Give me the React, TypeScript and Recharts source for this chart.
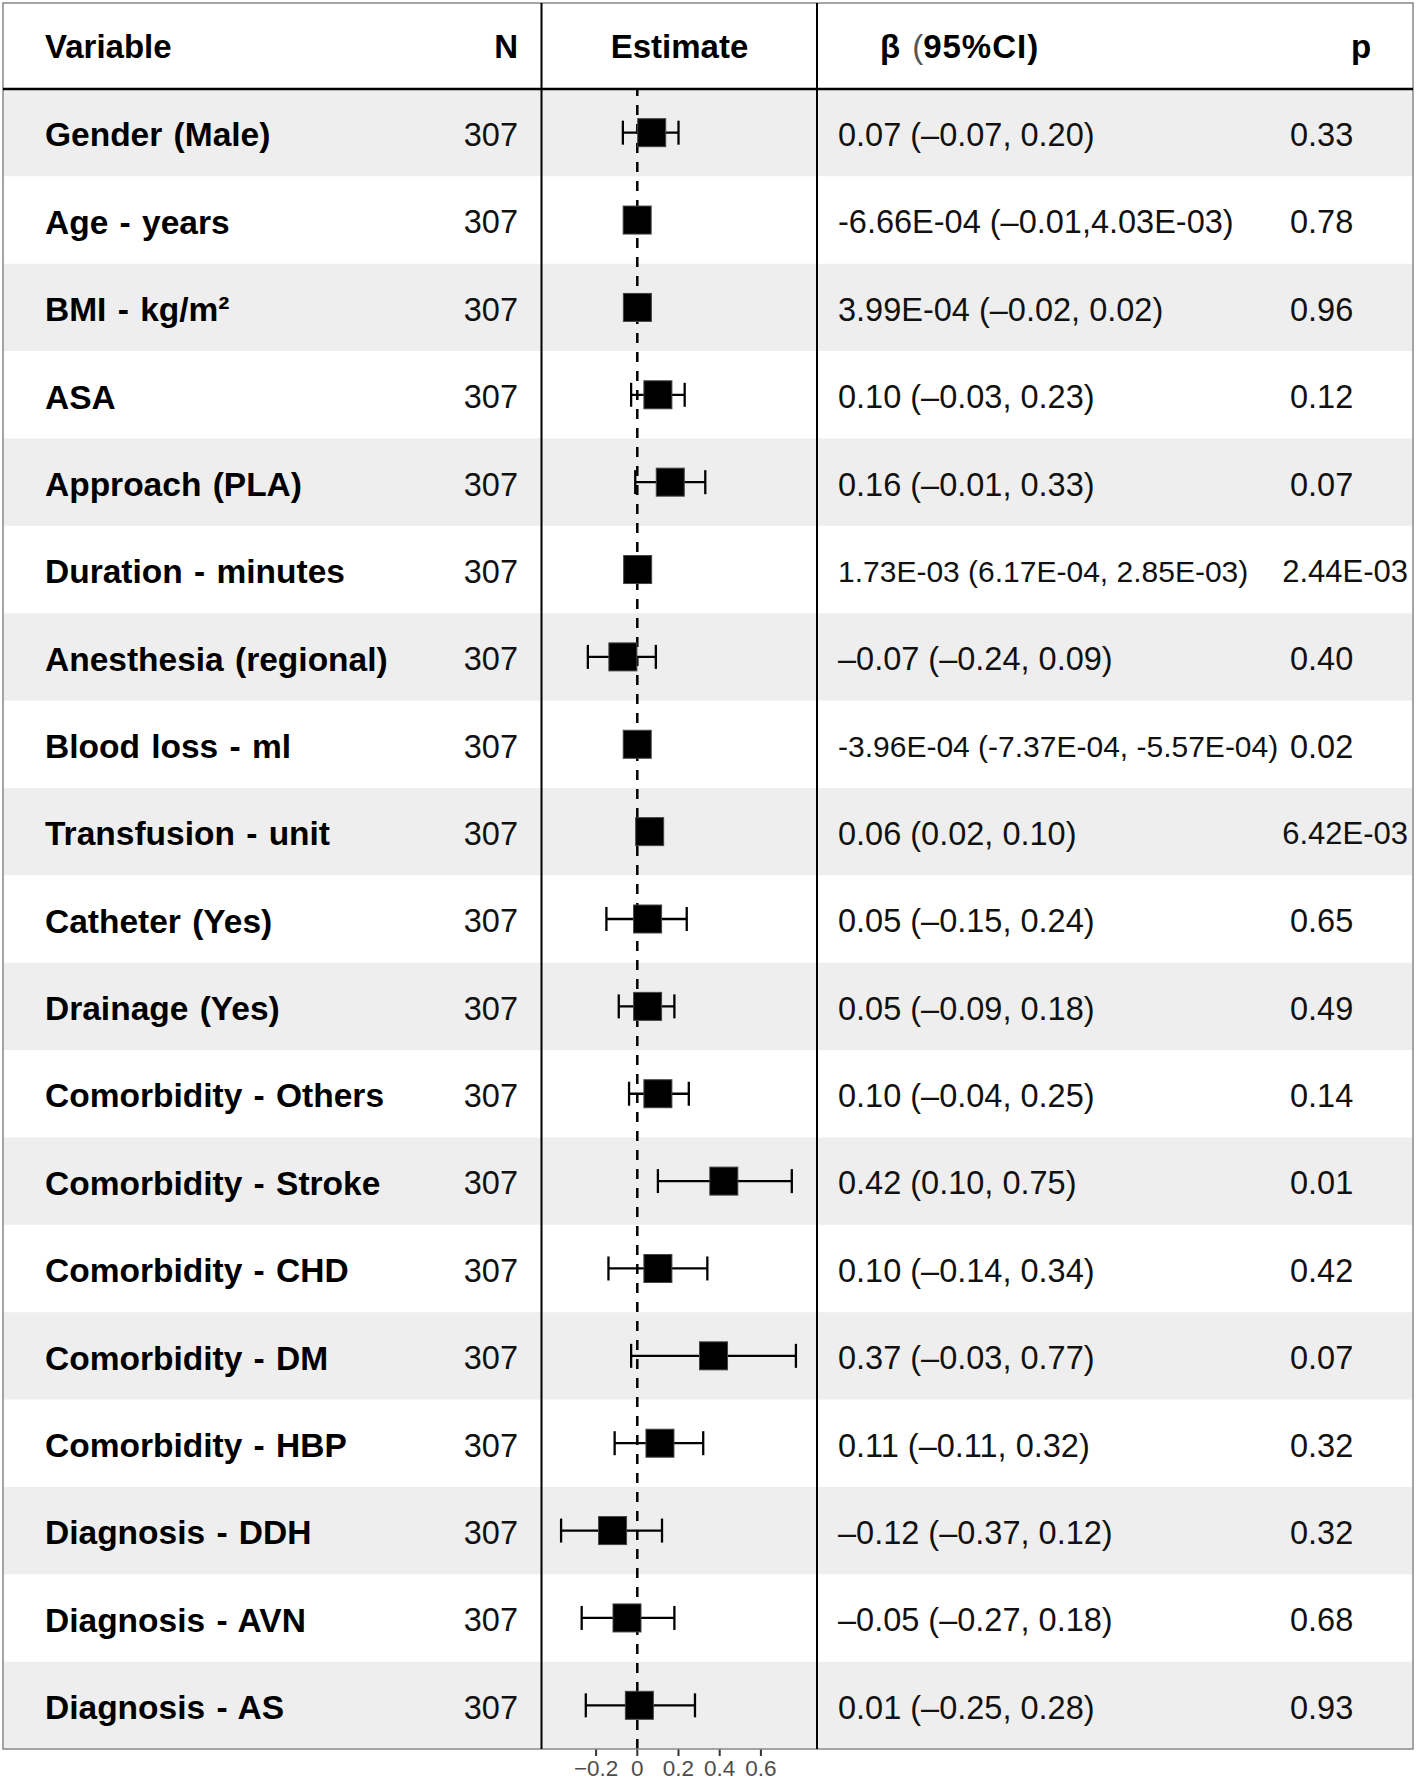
import React from "react";
import {
  ScatterChart,
  Scatter,
  XAxis,
  YAxis,
  ErrorBar,
  ReferenceArea,
  ReferenceLine,
} from "recharts";

const variables = [
  "Gender (Male)",
  "Age - years",
  "BMI - kg/m²",
  "ASA",
  "Approach (PLA)",
  "Duration - minutes",
  "Anesthesia (regional)",
  "Blood loss - ml",
  "Transfusion - unit",
  "Catheter (Yes)",
  "Drainage (Yes)",
  "Comorbidity - Others",
  "Comorbidity - Stroke",
  "Comorbidity - CHD",
  "Comorbidity - DM",
  "Comorbidity - HBP",
  "Diagnosis - DDH",
  "Diagnosis - AVN",
  "Diagnosis - AS",
];

const nCounts = [
  307, 307, 307, 307, 307, 307, 307, 307, 307, 307,
  307, 307, 307, 307, 307, 307, 307, 307, 307,
];

const estimates = [
  0.07, -6.66e-4, 3.99e-4, 0.1, 0.16, 1.73e-3, -0.07, -3.96e-4, 0.06, 0.05,
  0.05, 0.1, 0.42, 0.1, 0.37, 0.11, -0.12, -0.05, 0.01,
];
const lowerCI = [
  -0.07, -0.01, -0.02, -0.03, -0.01, 6.17e-4, -0.24, -7.37e-4, 0.02, -0.15,
  -0.09, -0.04, 0.1, -0.14, -0.03, -0.11, -0.37, -0.27, -0.25,
];
const upperCI = [
  0.2, 4.03e-3, 0.02, 0.23, 0.33, 2.85e-3, 0.09, -5.57e-4, 0.1, 0.24,
  0.18, 0.25, 0.75, 0.34, 0.77, 0.32, 0.12, 0.18, 0.28,
];

const ciLabels = [
  "0.07 (–0.07, 0.20)",
  "-6.66E-04 (–0.01,4.03E-03)",
  "3.99E-04 (–0.02, 0.02)",
  "0.10 (–0.03, 0.23)",
  "0.16 (–0.01, 0.33)",
  "1.73E-03 (6.17E-04, 2.85E-03)",
  "–0.07 (–0.24, 0.09)",
  "-3.96E-04 (-7.37E-04, -5.57E-04)",
  "0.06 (0.02, 0.10)",
  "0.05 (–0.15, 0.24)",
  "0.05 (–0.09, 0.18)",
  "0.10 (–0.04, 0.25)",
  "0.42 (0.10, 0.75)",
  "0.10 (–0.14, 0.34)",
  "0.37 (–0.03, 0.77)",
  "0.11 (–0.11, 0.32)",
  "–0.12 (–0.37, 0.12)",
  "–0.05 (–0.27, 0.18)",
  "0.01 (–0.25, 0.28)",
];

const pLabels = [
  "0.33", "0.78", "0.96", "0.12", "0.07", "2.44E-03", "0.40", "0.02", "6.42E-03",
  "0.65", "0.49", "0.14", "0.01", "0.42", "0.07", "0.32", "0.32", "0.68", "0.93",
];

const xTicks = [-0.2, 0, 0.2, 0.4, 0.6];

// layout (px)
const W = 1416;
const H = 1781;
const LEFT = 3;
const RIGHT = 1413;
const TOP = 3;
const HEAD_BOTTOM = 89;
const AXIS_H = 32;
const BOTTOM = H - AXIS_H;
const COL1 = 541.5;
const COL2 = 817;
const ZERO_X = 637.3;
const PX_PER_UNIT = 206;
const FONT = "'Liberation Sans', Arial, Helvetica, sans-serif";

const xDomain = [(LEFT - ZERO_X) / PX_PER_UNIT, (RIGHT - ZERO_X) / PX_PER_UNIT];

const rows = variables.map((name, i) => ({
  row: i,
  name,
  est: estimates[i],
  err: [estimates[i] - lowerCI[i], upperCI[i] - estimates[i]],
}));

const RowTick = (props: any) => {
  const { y, payload } = props;
  const i = Math.round(Number(payload?.value));
  if (!(i >= 0 && i < variables.length)) return <g />;
  const ci = ciLabels[i];
  const p = pLabels[i];
  const longP = p.length > 4;
  const ty = y + 2;
  return (
    <g>
      <text x={45} y={ty} dy="0.35em" fontSize={33.5} fontWeight="bold" fill="#000" textAnchor="start" wordSpacing={2}>
        {variables[i]}
      </text>
      <text x={518} y={ty} dy="0.35em" fontSize={32.5} fill="#111" textAnchor="end">
        {nCounts[i]}
      </text>
      <text x={838} y={ty} dy="0.35em" fontSize={ci.length > 27 ? 30 : 32.5} fill="#111" textAnchor="start">
        {ci}
      </text>
      <text
        x={longP ? 1408 : 1290}
        y={ty}
        dy="0.35em"
        fontSize={longP ? 31 : 32.5}
        fill="#111"
        textAnchor={longP ? "end" : "start"}
      >
        {p}
      </text>
    </g>
  );
};

const Box = (props: any) => {
  const { cx, cy } = props;
  return <rect x={cx - 14} y={cy - 14} width={28} height={28} fill="#000" stroke="#444" strokeWidth={1} />;
};

const App: React.FC = () => {
  return (
    <div style={{ position: "relative", width: W, height: H, fontFamily: FONT, background: "#fff" }}>
      <style>{"body{margin:0}"}</style>
      <ScatterChart
        width={W}
        height={H}
        margin={{ top: HEAD_BOTTOM, right: W - RIGHT, left: LEFT, bottom: 0 }}
        style={{ fontFamily: FONT }}
      >
        <XAxis
          type="number"
          dataKey="est"
          domain={xDomain}
          allowDataOverflow
          ticks={xTicks}
          height={AXIS_H}
          axisLine={false}
          tickSize={7}
          tickMargin={4}
          tickLine={{ stroke: "#333", strokeWidth: 2 }}
          tick={{ fill: "#4d4d4d", fontSize: 22.5 }}
          tickFormatter={(v: number) => (v < 0 ? "−" + Math.abs(v) : String(v))}
        />
        <YAxis
          type="number"
          dataKey="row"
          domain={[-0.5, variables.length - 0.5]}
          reversed
          ticks={rows.map((r) => r.row)}
          interval={0}
          mirror
          width={60}
          axisLine={false}
          tickLine={false}
          tick={(p: any) => <RowTick {...p} />}
        />
        {rows
          .filter((r) => r.row % 2 === 0)
          .map((r) => (
            <ReferenceArea
              key={r.name}
              y1={r.row - 0.5}
              y2={r.row + 0.5}
              fill="#eeeeee"
              fillOpacity={1}
              stroke="none"
            />
          ))}
        <ReferenceLine x={0} stroke="#000" strokeWidth={2.5} strokeDasharray="10 9" />
        <Scatter data={rows} shape={<Box />} isAnimationActive={false}>
          <ErrorBar dataKey="err" direction="x" width={12} stroke="#000" strokeWidth={2.3} />
        </Scatter>
      </ScatterChart>
      <svg
        width={W}
        height={H}
        style={{ position: "absolute", left: 0, top: 0, pointerEvents: "none", fontFamily: FONT }}
      >
        <rect x={LEFT} y={TOP} width={RIGHT - LEFT} height={BOTTOM - TOP} fill="none" stroke="#888" strokeWidth={1.5} />
        <line x1={LEFT} x2={RIGHT} y1={HEAD_BOTTOM} y2={HEAD_BOTTOM} stroke="#000" strokeWidth={2.5} />
        <line x1={COL1} x2={COL1} y1={TOP} y2={BOTTOM} stroke="#000" strokeWidth={2} />
        <line x1={COL2} x2={COL2} y1={TOP} y2={BOTTOM} stroke="#000" strokeWidth={2} />
        <g fontWeight="bold" fontSize={33} fill="#000">
          <text x={45} y={46} dy="0.35em">Variable</text>
          <text x={518} y={46} dy="0.35em" textAnchor="end">N</text>
          <text x={679.5} y={46} dy="0.35em" textAnchor="middle">Estimate</text>
          <text x={880} y={46} dy="0.35em">
            β
            <tspan dx={12} fontWeight="normal" fill="#555">(</tspan>
            <tspan letterSpacing={1}>95%CI)</tspan>
          </text>
          <text x={1361} y={46} dy="0.35em" textAnchor="middle">p</text>
        </g>
      </svg>
    </div>
  );
};

export default App;
